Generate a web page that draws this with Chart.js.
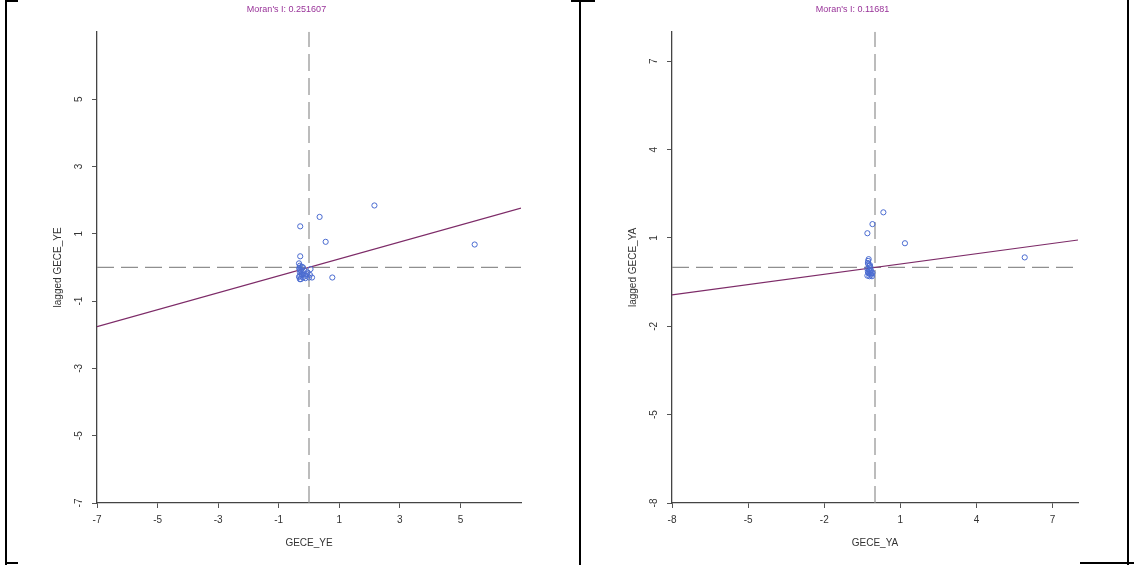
<!DOCTYPE html>
<html>
<head>
<meta charset="utf-8">
<script src="https://cdn.jsdelivr.net/npm/chart.js@4.4.1/dist/chart.umd.min.js"></script>
<style>
  body { margin: 0; background: #fff; width: 1134px; height: 565px; position: relative; overflow: hidden; }
  .box { position: absolute; top: 0; height: 565px; }
  .rule { position: absolute; background: #000; }
</style>
</head>
<body>
<div class="box" style="left:0;width:579px"><canvas id="chartYE"></canvas></div>
<div class="box" style="left:581px;width:553px"><canvas id="chartYA"></canvas></div>

<div class="rule" style="left:5px;top:0;width:2px;height:565px"></div>
<div class="rule" style="left:5px;top:0;width:13px;height:2px"></div>
<div class="rule" style="left:5px;top:562px;width:13px;height:2px"></div>
<div class="rule" style="left:579px;top:0;width:2px;height:565px"></div>
<div class="rule" style="left:571px;top:0;width:24px;height:2px"></div>
<div class="rule" style="left:1127px;top:0;width:2px;height:565px"></div>
<div class="rule" style="left:1080px;top:562px;width:54px;height:2px"></div>

<script>
// GECE_YE
const xYE = [2.16, 0.35, -0.29, 0.55, 5.47, -0.29, 0.77,
  -0.33, -0.3, -0.32, -0.28, -0.3, -0.25, -0.33, -0.2, -0.1, 0.0, 0.1, -0.15, -0.05, 0.05, -0.2, -0.27,
  -0.31, -0.26, -0.22, -0.29, -0.18, -0.24, -0.12, -0.3, -0.08, 0.03];
const lagYE = [1.84, 1.50, 1.22, 0.76, 0.68, 0.33, -0.30,
  0.12, 0.05, -0.02, -0.08, -0.15, -0.2, -0.28, -0.3, -0.25, -0.3, -0.3, -0.1, -0.15, -0.05, 0.0, -0.35,
  -0.05, -0.12, -0.22, -0.25, -0.18, 0.02, -0.32, -0.35, -0.2, -0.22];
const fitYE = [[-7, -1.76], [7, 1.76]];
const ticksYE = [-7, -5, -3, -1, 1, 3, 5];

// GECE_YA
const xYA = [0.33, -0.10, -0.30, 1.18, 5.9,
  -0.25, -0.28, -0.22, -0.3, -0.2, -0.25, -0.15, -0.3, -0.1, -0.18, -0.12, -0.27,
  -0.24, -0.2, -0.28, -0.16, -0.22, -0.26, -0.14, -0.2];
const lagYA = [1.87, 1.47, 1.16, 0.82, 0.34,
  0.28, 0.15, 0.05, -0.05, -0.12, -0.2, -0.25, -0.28, -0.18, 0.0, -0.3, 0.22,
  -0.08, -0.22, -0.15, -0.1, -0.3, 0.1, -0.2, 0.08];
const fitYA = [[-8, -0.93], [8, 0.93]];
const ticksYA = [-8, -5, -2, 1, 4, 7];

const fontFamily = "'Liberation Sans', Arial, sans-serif";

const rotatedYTicks = {
  id: "rotatedYTicks",
  afterDraw(chart) {
    const y = chart.scales.y;
    const ctx = chart.ctx;
    ctx.save();
    ctx.font = "10px " + fontFamily;
    ctx.fillStyle = "#333";
    ctx.textAlign = "center";
    ctx.textBaseline = "middle";
    y.ticks.forEach((t) => {
      ctx.save();
      ctx.translate(chart.chartArea.left - 18, y.getPixelForValue(t.value));
      ctx.rotate(-Math.PI / 2);
      ctx.fillText(String(t.value), 0, 0);
      ctx.restore();
    });
    ctx.restore();
  }
};

function axis(ticks, min, max, title, extra) {
  return Object.assign({
    type: "linear",
    min,
    max,
    afterBuildTicks(scale) {
      scale.ticks = ticks.map((v) => ({ value: v }));
    },
    grid: { drawOnChartArea: false, drawTicks: true, tickLength: 5, color: "#555" },
    border: { display: true, color: "#444", width: 1.3 },
    ticks: { color: "#333", font: { size: 10, family: fontFamily }, padding: 6, maxRotation: 0, autoSkip: false },
    title: { display: true, text: title, color: "#333", font: { size: 10, family: fontFamily }, padding: { top: 0, bottom: 4 } }
  }, extra);
}

function buildChart(id, opts) {
  const points = opts.xs.map((x, i) => ({ x, y: opts.ys[i] }));
  new Chart(document.getElementById(id), {
    type: "scatter",
    data: {
      datasets: [
        {
          data: points,
          pointStyle: "circle",
          pointRadius: 2.6,
          borderColor: "#4a6bd0",
          backgroundColor: "rgba(0,0,0,0)",
          borderWidth: 1
        },
        {
          type: "line",
          data: opts.fit.map(([x, y]) => ({ x, y })),
          borderColor: "#7d2b68",
          borderWidth: 1.2,
          pointRadius: 0
        },
        {
          type: "line",
          data: [{ x: 0, y: opts.min }, { x: 0, y: opts.max }],
          borderColor: "#8f8f8f",
          borderWidth: 1.2,
          borderDash: [17, 7],
          pointRadius: 0
        },
        {
          type: "line",
          data: [{ x: opts.min, y: 0 }, { x: opts.max, y: 0 }],
          borderColor: "#8f8f8f",
          borderWidth: 1.2,
          borderDash: [17, 7],
          pointRadius: 0
        }
      ]
    },
    options: {
      responsive: true,
      maintainAspectRatio: false,
      animation: false,
      layout: { padding: opts.padding },
      plugins: {
        legend: { display: false },
        tooltip: { enabled: false },
        title: {
          display: true,
          text: opts.title,
          color: "#993399",
          font: { size: 9, family: fontFamily, weight: "normal" },
          padding: { top: 4, bottom: 17 }
        }
      },
      scales: {
        x: axis(opts.ticks, opts.min, opts.max, opts.xTitle, {
          afterFit(scale) { scale.height = 50; }
        }),
        y: axis(opts.ticks, opts.min, opts.max, opts.yTitle, {
          ticks: { display: false },
          afterFit(scale) { scale.width = 45; }
        })
      }
    },
    plugins: [rotatedYTicks]
  });
}

buildChart("chartYE", {
  xs: xYE, ys: lagYE, fit: fitYE, ticks: ticksYE, min: -7, max: 7,
  title: "Moran's I: 0.251607", xTitle: "GECE_YE", yTitle: "lagged GECE_YE",
  padding: { left: 52, right: 58, top: 0, bottom: 12 }
});

buildChart("chartYA", {
  xs: xYA, ys: lagYA, fit: fitYA, ticks: ticksYA, min: -8, max: 8,
  title: "Moran's I: 0.11681", xTitle: "GECE_YA", yTitle: "lagged GECE_YA",
  padding: { left: 46, right: 56, top: 0, bottom: 12 }
});
</script>
</body>
</html>
